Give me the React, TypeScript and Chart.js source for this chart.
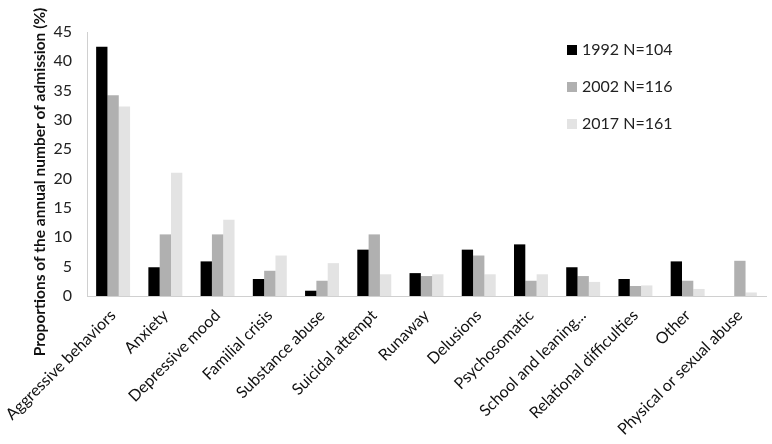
import React, { useEffect, useRef } from "react";
import { Chart, registerables } from "chart.js";

Chart.register(...registerables);

const categories = [
  "Aggressive behaviors",
  "Anxiety",
  "Depressive mood",
  "Familial crisis",
  "Substance abuse",
  "Suicidal attempt",
  "Runaway",
  "Delusions",
  "Psychosomatic",
  "School and leaning...",
  "Relational difficulties",
  "Other",
  "Physical or sexual abuse",
];

const seriesLabels = ["1992 N=104", "2002 N=116", "2017 N=161"];
const values1992 = [42.5, 4.9, 5.9, 2.9, 0.9, 7.9, 3.9, 7.9, 8.8, 4.9, 2.9, 5.9, 0];
const values2002 = [34.2, 10.5, 10.5, 4.3, 2.6, 10.5, 3.4, 6.9, 2.6, 3.4, 1.7, 2.6, 6.0];
const values2017 = [32.3, 21.0, 13.0, 6.9, 5.6, 3.7, 3.7, 3.7, 3.7, 2.4, 1.8, 1.2, 0.6];
const yTicks = [0, 5, 10, 15, 20, 25, 30, 35, 40, 45];
const yTitle = "Proportions of the annual number of admission (%)";
const colors = ["#000000", "#b0b0b0", "#e3e3e3"];

const FONT = "Lato, 'Open Sans', sans-serif";

const legendPlugin = {
  id: "customLegend",
  afterDraw(chart: any) {
    const ctx = chart.ctx;
    ctx.save();
    const x = 567;
    const ys = [50, 87, 124];
    chart.data.datasets.forEach((ds: any, i: number) => {
      ctx.fillStyle = ds.backgroundColor;
      ctx.fillRect(x, ys[i] - 5, 10, 10);
      ctx.fillStyle = "#222";
      ctx.font = `16px ${FONT}`;
      ctx.textBaseline = "middle";
      ctx.textAlign = "left";
      ctx.fillText(ds.label, x + 15, ys[i]);
    });
    // y-axis title
    ctx.translate(40, 182);
    ctx.rotate(-Math.PI / 2);
    ctx.fillStyle = "#111";
    ctx.font = `bold 15.5px ${FONT}`;
    ctx.textAlign = "center";
    ctx.textBaseline = "middle";
    ctx.fillText(yTitle, 0, 0);
    ctx.restore();
  },
};

export default function App() {
  const ref = useRef<HTMLCanvasElement | null>(null);
  useEffect(() => {
    document.body.style.margin = "0";
    const data = [values1992, values2002, values2017];
    const chart = new Chart(ref.current!, {
      type: "bar",
      data: {
        labels: categories,
        datasets: seriesLabels.map((label, i) => ({
          label,
          data: data[i],
          backgroundColor: colors[i],
          borderWidth: 0,
          categoryPercentage: 0.65,
          barPercentage: 1,
        })),
      },
      options: {
        animation: false,
        responsive: false,
        maintainAspectRatio: false,
        layout: { padding: { top: 32, right: 6, left: 0, bottom: 0 } },
        plugins: { legend: { display: false }, tooltip: { enabled: false } },
        scales: {
          x: {
            grid: { display: false, drawTicks: false },
            border: { color: "#d0d0d0", width: 1 },
            ticks: {
              maxRotation: 45,
              minRotation: 45,
              autoSkip: false,
              color: "#111",
              padding: 10,
              font: { family: FONT, size: 16 },
            },
            afterFit(scale: any) {
              scale.height = 148;
              scale.paddingLeft = 0;
              scale.paddingRight = 0;
            },
          },
          y: {
            min: 0,
            max: 45,
            afterBuildTicks(scale: any) {
              scale.ticks = yTicks.map((v) => ({ value: v }));
            },
            grid: { display: false, drawTicks: false },
            border: { color: "#d0d0d0", width: 1 },
            ticks: {
              color: "#222",
              padding: 15,
              font: { family: FONT, size: 16 },
            },
            afterFit(scale: any) {
              scale.width = 87;
            },
          },
        },
      },
      plugins: [legendPlugin],
    } as any);
    return () => chart.destroy();
  }, []);
  return (
    <div style={{ width: 772, height: 444 }}>
      <canvas ref={ref} width={772} height={444} style={{ width: 772, height: 444 }} />
    </div>
  );
}
